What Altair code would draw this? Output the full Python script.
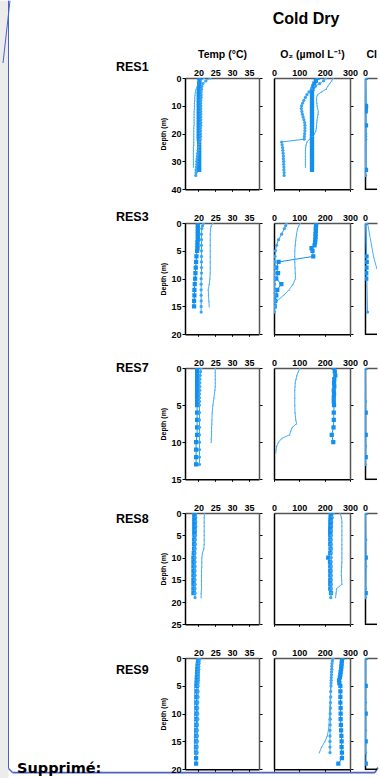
import altair as alt
import pandas as pd

FONT = "Liberation Sans, Arial, Helvetica, sans-serif"

SITES = ["RES1", "RES3", "RES7", "RES8", "RES9"]
DEPTH_MAX = [40, 20, 15, 25, 20]
DEPTH_TICKS = [[0, 10, 20, 30, 40], [0, 5, 10, 15, 20], [0, 5, 10, 15],
               [0, 5, 10, 15, 20, 25], [0, 5, 10, 15, 20]]
TEMP_TICKS = [20, 25, 30, 35]
O2_TICKS = [0, 100, 200, 300]
CL_TICKS = [0]
HEADERS = {"temp": "Temp (°C)", "o2": "O₂ (µmol L⁻¹)", "cl": "Cl"}
MAIN_TITLE = "Cold Dry"
NOTE = "Supprimé:"

# ---------------- RES1 ----------------
res1_depth_a = [0, 1, 2, 3, 4, 5, 6, 7, 8, 9, 10, 11, 12, 13, 14, 15, 16, 17, 18, 19,
                20, 21, 22, 23, 24, 25, 26, 27, 28, 29, 30, 31, 32, 33]
res1_temp_a = [20.3, 20.3, 20.2, 20.2, 20.2, 20.1, 20.1, 20.1, 20.1, 20.1,
               20.1, 20.1, 20.1, 20.1, 20.1, 20.1, 20.1, 20.1, 20.1, 20.1,
               20.1, 20.1, 20.1, 20.2, 20.2, 20.2, 20.2, 20.2, 20.2, 20.2,
               20.2, 20.2, 20.2, 20.2]
res1_o2_a = [172, 165, 159, 155, 152, 150, 150, 150, 150, 150,
             150, 150, 150, 150, 150, 150, 150, 150, 150, 150,
             150, 150, 150, 150, 150, 150, 150, 150, 150, 150,
             150, 150, 150, 150]
res1_depth_b = [0, 1, 2, 3, 4, 5, 6, 7, 8, 9, 10, 11, 12, 13, 14, 15, 16, 17, 18, 19,
                20, 21, 22, 23, 24, 25, 26, 27, 28, 29, 30, 31, 32, 33, 34, 35]
res1_temp_b = [23.5, 22.2, 21.3, 21.0, 20.9, 20.8, 20.8, 20.8, 20.7, 20.7,
               20.7, 20.7, 20.7, 20.7, 20.7, 20.7, 20.7, 20.7, 20.6, 20.6,
               20.6, 20.6, 20.5, 20.3, 20.1, 20.0, 19.9, 19.8, 19.7, 19.6,
               19.5, 19.5, 19.4, 19.3, 19.3, 19.2]
res1_o2_b = [204, 196, 180, 163, 148, 138, 130, 124, 118, 113,
             109, 108, 110, 112, 115, 118, 121, 122, 122, 122,
             121, 120, 119, 30, 32, 34, 35, 36, 37, 37,
             38, 38, 39, 39, 40, 40]
res1_depth_c = [0, 1, 2, 3, 4, 5, 6, 7, 8, 9, 10, 11, 12, 13, 14, 15, 16, 17, 18, 19,
                20, 21, 22, 23, 24, 25, 26, 27, 28, 29, 30, 31, 32]
res1_temp_c = [21.8, 20.6, 20.0, 19.6, 19.3, 19.1, 19.0, 18.9, 18.9, 18.8,
               18.8, 18.8, 18.7, 18.7, 18.7, 18.7, 18.7, 18.7, 18.6, 18.6,
               18.6, 18.6, 18.6, 18.6, 18.6, 18.5, 18.5, 18.5, 18.5, 18.5,
               18.5, 18.5, 18.5]
res1_o2_c = [234, 228, 220, 212, 206, 188, 172, 168, 168, 169,
             170, 172, 175, 174, 172, 170, 169, 168, 167, 165,
             160, 152, 140, 130, 127, 125, 124, 124, 124, 124,
             124, 124, 124]
res1_cl_depth_a = [0, 10, 10.5, 11, 12, 17, 33]
res1_cl_a = [0.3, 0.4, 0.4, 0.3, 0.3, 0.4, 0.4]
res1_cl_depth_b = [0, 20, 21, 22, 35]
res1_cl_b = [0.2, 0.3, 0.3, 0.3, 0.2]
res1_cl_depth_c = [0, 9, 16, 32]
res1_cl_c = [0.2, 0.4, 0.3, 0.2]

# ---------------- RES3 ----------------
res3_depth_a = [0, 0.5, 1, 1.5, 2, 2.5, 3, 3.5, 4, 4.5, 5, 6, 7, 8, 9, 10, 11, 12, 13, 14, 15]
res3_temp_a = [19.8, 19.8, 19.8, 19.8, 19.8, 19.8, 19.8, 19.7, 19.7, 19.7,
               19.6, 19.4, 19.3, 19.2, 19.1, 19.0, 18.9, 18.8, 18.8, 18.7, 18.7]
res3_o2_a = [166, 166, 165, 165, 164, 164, 163, 162, 160, 148,
             152, 155, 18, 9, 16, 9, 29, 13, 9, 5, 3]
res3_depth_b = [0, 0.5, 1, 2, 3, 4, 5, 6, 7, 8, 9, 10, 11, 12, 13, 14, 15, 16]
res3_temp_b = [21.5, 21.2, 21.0, 20.9, 20.9, 20.9, 20.9, 20.9, 20.9, 20.9,
               20.9, 20.8, 20.8, 20.8, 20.8, 20.8, 20.8, 20.8]
res3_o2_b = [49, 46, 41, 30, 18, 10, 6, 4, 3, 3, 2, 2, 2, 2, 2, 2, 2, 2]
res3_depth_c = [0, 0.5, 1, 2, 3, 4, 5, 6, 7, 8, 9, 10, 11, 12, 13, 14, 15]
res3_temp_c = [24.3, 23.8, 23.6, 23.5, 23.5, 23.5, 23.5, 23.5, 23.5, 23.5,
               23.5, 23.4, 23.2, 22.9, 23.0, 23.1, 23.2]
res3_o2_c = [104, 98, 93, 89, 86, 84, 82, 82, 82, 83, 84, 85, 75, 60, 38, 12, 3]
res3_cl_depth_a = [0, 6, 7, 8, 9, 10]
res3_cl_a = [0.3, 0.6, 0.7, 0.6, 0.5, 0.5]
res3_cl_depth_b = [0, 16]
res3_cl_b = [0.3, 1.0]
res3_cl_depth_c = [0, 2, 4, 6, 8, 10, 12, 14, 15]
res3_cl_c = [1.0, 1.8, 2.6, 3.4, 4.6, 6.5, 8.5, 10.0, 10.5]

# ---------------- RES7 ----------------
res7_depth_a = [0, 0.5, 1, 1.5, 2, 2.5, 3, 3.5, 4, 4.5, 5, 6, 7, 8, 9, 10, 11, 12, 13]
res7_temp_a = [19.6, 19.6, 19.6, 19.6, 19.6, 19.6, 19.6, 19.6, 19.6, 19.6,
               19.6, 19.6, 19.6, 19.6, 19.6, 19.3, 19.3, 19.3, 19.3]
res7_o2_a = [236, 240, 242, 238, 237, 238, 236, 237, 236, 236,
             237, 236, 236, 235, 228, 234, None, None, None]
res7_depth_b = [0, 0.5, 1, 1.5, 2, 2.5, 3, 3.5, 4, 4.5, 5, 6, 7, 8, 9, 10, 11, 12, 13]
res7_temp_b = [20.8, 20.6, 20.5, 20.4, 20.4, 20.4, 20.4, 20.3, 20.3, 20.3,
               20.3, 20.3, 20.3, 20.3, 20.3, 20.3, 20.3, 20.3, 20.3]
res7_o2_b = None
res7_depth_c = [0, 0.5, 1, 1.5, 2, 2.5, 3, 4, 5, 6, 7, 7.5, 8, 8.5, 9, 9.5, 10, 10.5, 11, 11.4]
res7_temp_c = [25.0, 25.0, 25.0, 25.0, 25.0, 25.0, 24.9, 24.6, 24.3, 24.1,
               24.0, 24.0, 23.9, 23.9, 23.9, 23.8, 23.8, None, None, None]
res7_o2_c = [102, 96, 90, 87, 84, 83, 82, 82, 82, 83,
             86, 89, 72, 66, 62, 30, 18, 11, 8, 7]
res7_cl_depth_a = [0, 6, 9, 12]
res7_cl_a = [0.2, 0.3, 0.3, 0.3]
res7_cl_depth_b = [0, 4.5, 10.5, 13]
res7_cl_b = [0.2, 0.2, 0.2, 0.2]
res7_cl_depth_c = []
res7_cl_c = []

# ---------------- RES8 ----------------
res8_depth_a = [0, 0.5, 1, 1.5, 2, 2.5, 3, 3.5, 4, 4.5, 5, 6, 7, 8, 9, 10, 11, 12,
                13, 14, 15, 16, 17, 18]
res8_temp_a = [18.8, 18.8, 18.8, 18.8, 18.8, 18.8, 18.8, 18.8, 18.8, 18.8,
               18.8, 18.7, 18.7, 18.7, 18.6, 18.5, 18.5, 18.5, 18.5, 18.5,
               18.5, 18.5, 18.5, 18.5]
res8_o2_a = [226, 224, 224, 223, 223, 223, 223, 222, 222, 222,
             222, 222, 222, 223, 222, 214, 221, 222, 222, 222,
             222, 222, 222, 225]
res8_depth_b = [0, 1, 2, 3, 4, 5, 6, 7, 8, 9, 10, 11, 12, 13, 14, 15, 16, 17, 18, 19]
res8_temp_b = [19.2, 19.2, 19.2, 19.2, 19.1, 19.1, 19.1, 19.1, 19.0, 19.0,
               19.0, 19.0, 19.0, 19.0, 19.0, 19.0, 19.0, 19.0, 19.0, 19.0]
res8_o2_b = [234, 230, 228, 227, 226, 226, 226, 226, 226, 226,
             226, 226, 226, 226, 226, 226, 226, 226, 226, 224]
res8_depth_c = [0, 1, 2, 3, 4, 5, 6, 7, 8, 9, 10, 11, 12, 13, 14, 15, 16, 17, 18, 19]
res8_temp_c = [21.8, 21.7, 21.7, 21.7, 21.7, 21.7, 21.7, 21.7, 21.6, 21.2,
               21.0, 21.0, 21.0, 20.9, 20.9, 20.9, 20.9, 20.9, 20.8, 20.8]
res8_o2_c = [261, 266, 268, 268, 268, 268, 268, 268, 268, 268,
             268, 268, 267, 266, 266, 267, 268, 247, 245, 243]
res8_cl_depth_a = [0, 10, 18]
res8_cl_a = [0.2, 0.3, 0.3]
res8_cl_depth_b = [0, 6, 12, 17, 19]
res8_cl_b = [0.2, 0.3, 0.3, 0.2, 0.2]
res8_cl_depth_c = []
res8_cl_c = []

# ---------------- RES9 ----------------
res9_depth_a = [0, 0.5, 1, 1.5, 2, 2.5, 3, 3.5, 4, 4.5, 5, 6, 7, 8, 9, 10, 11, 12,
                13, 14, 15, 16, 17, 18, 19]
res9_temp_a = [20.0, 19.9, 19.8, 19.8, 19.7, 19.7, 19.6, 19.6, 19.6, 19.5,
               19.5, 19.5, 19.4, 19.4, 19.4, 19.4, 19.4, 19.4, 19.3, 19.3,
               19.3, 19.3, 19.3, 19.3, 19.3]
res9_o2_a = [270, 268, 267, 266, 265, 263, 262, 260, 257, 258,
             262, 262, 262, 262, 263, 263, 263, 264, 265, 266,
             267, 267, 268, 268, 254]
res9_depth_b = [0, 0.5, 1, 1.5, 2, 2.5, 3, 3.5, 4, 4.5, 5, 6, 7, 8, 9, 10, 11, 12,
                13, 14, 15, 16, 17]
res9_temp_b = [20.3, 20.2, 20.2, 20.1, 20.1, 20.0, 20.0, 20.0, 20.0, 19.9,
               19.9, 19.9, 19.9, 19.8, 19.8, 19.8, 19.8, 19.7, 19.7, 19.7,
               19.7, 19.6, 19.6]
res9_o2_b = [232, 230, 229, 228, 228, 227, 227, 226, 226, 225,
             225, 224, 224, 223, 223, 222, 222, 222, 221, 221,
             221, 221, 221]
res9_depth_c = [0, 0.5, 1, 1.5, 2, 2.5, 3, 3.5, 4, 4.5, 5, 6, 7, 8, 9, 10, 11, 12,
                13, 14, 15, 16, 17]
res9_temp_c = [19.7, 19.5, 19.4, 19.3, 19.2, 19.1, 19.1, 19.0, 19.0, 19.0,
               18.9, 18.9, 18.9, 18.9, 18.9, 18.9, 18.9, 18.9, 18.9, 18.8,
               18.8, 18.8, 18.8]
res9_o2_c = [236, 233, 231, 230, 229, 228, 227, 226, 225, 224,
             224, 223, 222, 221, 220, 219, 218, 217, 215, 210,
             201, 188, 179]
res9_cl_depth_a = [0, 5, 10, 15, 19]
res9_cl_a = [0.3, 0.3, 0.3, 0.3, 0.3]
res9_cl_depth_b = [0, 8, 13, 17]
res9_cl_b = [0.2, 0.2, 0.2, 0.2]
res9_cl_depth_c = []
res9_cl_c = []

SERIES = {
    "RES1": {"a": (res1_depth_a, res1_temp_a, res1_o2_a, res1_cl_depth_a, res1_cl_a),
             "b": (res1_depth_b, res1_temp_b, res1_o2_b, res1_cl_depth_b, res1_cl_b),
             "c": (res1_depth_c, res1_temp_c, res1_o2_c, res1_cl_depth_c, res1_cl_c)},
    "RES3": {"a": (res3_depth_a, res3_temp_a, res3_o2_a, res3_cl_depth_a, res3_cl_a),
             "b": (res3_depth_b, res3_temp_b, res3_o2_b, res3_cl_depth_b, res3_cl_b),
             "c": (res3_depth_c, res3_temp_c, res3_o2_c, res3_cl_depth_c, res3_cl_c)},
    "RES7": {"a": (res7_depth_a, res7_temp_a, res7_o2_a, res7_cl_depth_a, res7_cl_a),
             "b": (res7_depth_b, res7_temp_b, res7_o2_b, res7_cl_depth_b, res7_cl_b),
             "c": (res7_depth_c, res7_temp_c, res7_o2_c, res7_cl_depth_c, res7_cl_c)},
    "RES8": {"a": (res8_depth_a, res8_temp_a, res8_o2_a, res8_cl_depth_a, res8_cl_a),
             "b": (res8_depth_b, res8_temp_b, res8_o2_b, res8_cl_depth_b, res8_cl_b),
             "c": (res8_depth_c, res8_temp_c, res8_o2_c, res8_cl_depth_c, res8_cl_c)},
    "RES9": {"a": (res9_depth_a, res9_temp_a, res9_o2_a, res9_cl_depth_a, res9_cl_a),
             "b": (res9_depth_b, res9_temp_b, res9_o2_b, res9_cl_depth_b, res9_cl_b),
             "c": (res9_depth_c, res9_temp_c, res9_o2_c, res9_cl_depth_c, res9_cl_c)},
}

rows = []
for site, sers in SERIES.items():
    for s, (dep, temp, o2, cdep, cl) in sers.items():
        for var, vals in (("temp", temp), ("o2", o2)):
            if vals is None:
                continue
            for d, v in zip(dep, vals):
                if v is not None:
                    rows.append({"site": site, "var": var, "series": s, "depth": d, "value": v})
        for d, v in zip(cdep, cl):
            rows.append({"site": site, "var": "cl", "series": s, "depth": d, "value": v})
DATA = pd.DataFrame(rows)

# ---------------- styling ----------------
BLUE = ["#1290f0", "#3aa5f3", "#4aaef5"]
SHAPES = ["square", "circle", "triangle-up"]
SIZES = [18, 3, 4]
PANEL_H = 111.3
# third column is cut by the page edge: same scale (30 units / 75 px) but only 12 px shown
VAR_CFG = {"temp": ([16, 38], TEMP_TICKS, 74),
           "o2": ([0, 300], O2_TICKS, 76),
           "cl": ([0, 4.8], CL_TICKS, 12)}
LABEL_DY = [-10.8, -6, 0, 6, 11.7]
DECO_BLUE = "#4a62c2"


def one_row():
    return pd.DataFrame({"k": [0]})


def make_panel(i, var):
    site = SITES[i]
    dom, xt, w = VAR_CFG[var]
    df = DATA[(DATA["site"] == site) & (DATA["var"] == var)]
    xscale = alt.Scale(domain=dom, nice=False, zero=False)
    yscale = alt.Scale(domain=[0, DEPTH_MAX[i]], reverse=True, nice=False, zero=False)

    top_kw = dict(orient="top", values=xt, labelFontSize=9, labelFontWeight="bold",
                  labelFont=FONT, labelColor="black", ticks=False, labelPadding=1,
                  labelFlush=False, labelOverlap=False, domainColor="#555555",
                  domainWidth=1.5, grid=False)
    if i == 0:
        top_kw.update(title=HEADERS[var], titleFontSize=10.5, titleFontWeight="bold",
                      titleFont=FONT, titleColor="black", titlePadding=9)
        if var == "cl":
            top_kw.update(titleAlign="left", titleX=1)
    else:
        top_kw.update(title=None)
    top_axis = alt.Axis(**top_kw)

    if var == "temp":
        left_axis = alt.Axis(orient="left", values=DEPTH_TICKS[i], labelFontSize=9,
                             labelFontWeight="bold", labelFont=FONT, labelColor="black",
                             tickSize=3, tickColor="black", labelPadding=1,
                             labelFlush=False, labelOverlap=False,
                             domainColor="black", domainWidth=1.5, grid=False,
                             title="Depth (m)", titleFontSize=7, titleFontWeight="bold",
                             titleFont=FONT, titleColor="black", titlePadding=4)
    else:
        left_axis = alt.Axis(orient="left", labels=False, ticks=False,
                             domainColor="black", domainWidth=1.5, grid=False, title=None)

    bottom_axis = alt.Axis(orient="bottom", values=xt, labels=False, tickSize=2,
                           tickColor="black", domainColor="black", domainWidth=1.5,
                           grid=False, title=None)
    right_axis = alt.Axis(orient="right", values=DEPTH_TICKS[i], labels=False,
                          tickSize=3, tickColor="black", domainColor="#555555",
                          domainWidth=1.5, grid=False, title=None)

    enc = dict(
        x=alt.X("value:Q", scale=xscale, axis=top_axis),
        y=alt.Y("depth:Q", scale=yscale, axis=left_axis),
        color=alt.Color("series:N", scale=alt.Scale(domain=["a", "b", "c"], range=BLUE),
                        legend=None),
        detail="series:N",
        order=alt.Order("depth:Q"),
    )
    base = alt.Chart(df)
    lines = base.mark_line(strokeWidth=1, clip=True).encode(**enc)
    pts = base.mark_point(filled=True, opacity=1, clip=True).encode(
        **enc,
        shape=alt.Shape("series:N", scale=alt.Scale(domain=["a", "b", "c"], range=SHAPES),
                        legend=None),
        size=alt.Size("series:O", scale=alt.Scale(domain=["a", "b", "c"], range=SIZES),
                      legend=None),
    )
    layers = [alt.layer(lines, pts)]
    if var != "cl":
        frame = base.mark_point(opacity=0, clip=True).encode(
            x=alt.X("value:Q", scale=xscale, axis=bottom_axis),
            y=alt.Y("depth:Q", scale=yscale, axis=right_axis),
        )
        layers.append(frame)
    else:
        # bottom border of the cut-off panel
        layers.append(
            alt.Chart(one_row()).mark_rule(color="black", strokeWidth=1.5)
            .encode(x=alt.value(0), x2=alt.value(w), y=alt.value(PANEL_H)))

    if var == "temp":
        layers.append(
            alt.Chart(one_row()).mark_text(font=FONT, fontSize=12.5, fontWeight="bold",
                                           align="left", baseline="middle", color="black")
            .encode(x=alt.value(-69), y=alt.value(LABEL_DY[i]), text=alt.value(site))
        )
        if i == 0:
            # page margin strip and comment-balloon border (decoration), in page coordinates
            deco = alt.Chart(one_row())
            layers.append(
                deco.mark_rect(color="#ececec")
                .encode(x=alt.value(-185), x2=alt.value(-176.5),
                        y=alt.value(-77.3), y2=alt.value(700.7)))
            layers.append(
                deco.mark_rule(color=DECO_BLUE, strokeWidth=1)
                .encode(x=alt.value(-176.5), x2=alt.value(-176.5),
                        y=alt.value(-77.3), y2=alt.value(690.5)))
            layers.append(
                deco.mark_rule(color=DECO_BLUE, strokeWidth=1)
                .encode(x=alt.value(-175), x2=alt.value(-182),
                        y=alt.value(-77.3), y2=alt.value(-15)))
            layers.append(
                deco.mark_rule(color=DECO_BLUE, strokeWidth=1.5)
                .encode(x=alt.value(-176.5), x2=alt.value(-172.5),
                        y=alt.value(690.5), y2=alt.value(694.5)))
            layers.append(
                deco.mark_rect(color=DECO_BLUE)
                .encode(x=alt.value(-172.5), x2=alt.value(190),
                        y=alt.value(693.7), y2=alt.value(695.5)))
            layers.append(
                deco.mark_rule(color=DECO_BLUE, strokeWidth=1.5)
                .encode(x=alt.value(190), x2=alt.value(193),
                        y=alt.value(694.5), y2=alt.value(689.5)))
        if i == len(SITES) - 1:
            layers.append(
                alt.Chart(one_row()).mark_text(font="DejaVu Sans", fontSize=14.5,
                                               fontWeight="bold", align="left",
                                               baseline="alphabetic", color="black")
                .encode(x=alt.value(-168), y=alt.value(114.5), text=alt.value(NOTE)))

    chart = alt.layer(*layers)
    if var != "cl":
        chart = chart.resolve_axis(x="independent", y="independent")
    chart = chart.properties(width=w, height=PANEL_H,
                             view=alt.ViewBackground(strokeWidth=0, strokeOpacity=0))
    if i == 0 and var == "o2":
        chart = chart.properties(title=alt.TitleParams(
            MAIN_TITLE, font=FONT, fontSize=16, fontWeight="bold", color="black",
            anchor="middle", dx=-6, offset=22))
    return chart


panels = []
for i in range(len(SITES)):
    for var in ["temp", "o2", "cl"]:
        panels.append(make_panel(i, var))

chart = alt.concat(*panels, columns=3, spacing={"row": 33, "column": 15},
                   bounds="flush", align="each") \
    .properties(padding=0, background="white") \
    .configure_view(strokeWidth=0, stroke="transparent")

chart.save("out.html", embed_options={"renderer": "svg", "actions": False})
